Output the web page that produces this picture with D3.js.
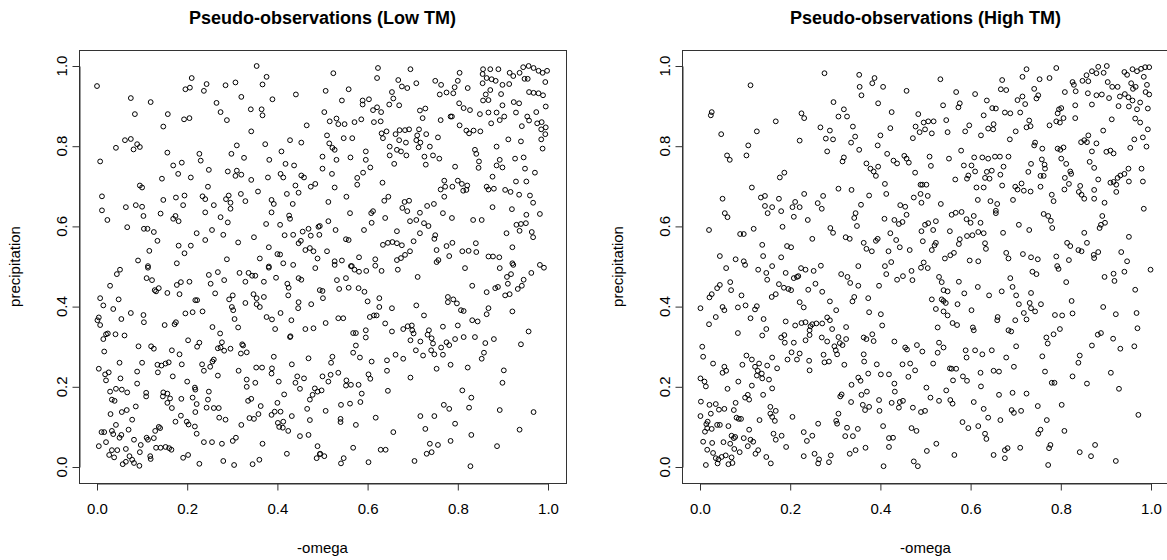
<!DOCTYPE html>
<html><head><meta charset="utf-8">
<script src="https://cdn.jsdelivr.net/npm/d3@7"></script>
<style>body{margin:0;background:#fff}svg{display:block}text{font-family:Arial,"Liberation Sans",sans-serif;fill:#000}</style>
</head><body><svg id="c" width="1167" height="560"></svg>
<script>
const titles = ["Pseudo-observations (Low TM)", "Pseudo-observations (High TM)"];
const xLabel = "-omega";
const yLabel = "precipitation";
const tickValues = [0, 0.2, 0.4, 0.6, 0.8, 1.0];
const tickLabels = ["0.0", "0.2", "0.4", "0.6", "0.8", "1.0"];

const lowTM = [
[0.00,0.95],[0.21,0.97],[0.354,1.00],[0.376,0.973],[0.243,0.955],[0.206,0.946],[0.196,0.942],[0.237,0.938],[0.285,0.952],[0.307,0.959],[0.367,0.954],[0.441,0.929],[0.075,0.92],[0.119,0.91],[0.32,0.923],[0.389,0.917],[0.265,0.908],[0.274,0.885],[0.341,0.892],[0.365,0.892],[0.367,0.877],[0.288,0.865],[0.084,0.88],[0.157,0.88],[0.193,0.867],[0.205,0.87],[0.147,0.849],[0.465,0.852],[0.342,0.837],[0.062,0.815],[0.075,0.818],[0.042,0.796],[0.089,0.805],[0.081,0.792],[0.095,0.798],[0.31,0.802],[0.373,0.805],[0.428,0.815],[0.453,0.809],[0.007,0.762],[0.156,0.784],[0.227,0.781],[0.23,0.764],[0.298,0.781],[0.326,0.771],[0.409,0.787],[0.382,0.766],[0.169,0.752],[0.188,0.759],[0.418,0.756],[0.437,0.752],[0.18,0.731],[0.208,0.722],[0.248,0.741],[0.29,0.737],[0.31,0.739],[0.307,0.726],[0.32,0.729],[0.144,0.719],[0.342,0.716],[0.379,0.722],[0.407,0.731],[0.413,0.722],[0.453,0.727],[0.459,0.722],[0.474,0.699],[0.484,0.706],[0.095,0.702],[0.10,0.697],[0.246,0.699],[0.357,0.687],[0.44,0.702],[0.447,0.684],[0.421,0.681],[0.011,0.675],[0.147,0.666],[0.175,0.672],[0.194,0.677],[0.234,0.675],[0.24,0.668],[0.286,0.668],[0.292,0.677],[0.296,0.659],[0.319,0.681],[0.329,0.663],[0.387,0.666],[0.392,0.656],[0.259,0.653],[0.191,0.653],[0.064,0.648],[0.086,0.653],[0.10,0.649],[0.434,0.656],[0.011,0.64],[0.296,0.644],[0.103,0.626],[0.141,0.632],[0.174,0.626],[0.169,0.619],[0.181,0.613],[0.24,0.635],[0.274,0.623],[0.29,0.61],[0.387,0.635],[0.426,0.627],[0.428,0.619],[0.023,0.616],[0.067,0.598],[0.104,0.594],[0.112,0.594],[0.126,0.586],[0.375,0.606],[0.406,0.604],[0.494,0.601],[0.491,0.599],[0.221,0.583],[0.255,0.591],[0.28,0.579],[0.24,0.566],[0.348,0.573],[0.416,0.578],[0.435,0.579],[0.456,0.587],[0.469,0.594],[0.474,0.577],[0.493,0.579],[0.134,0.564],[0.313,0.56],[0.447,0.558],[0.452,0.564],[0.181,0.552],[0.208,0.552],[0.116,0.539],[0.194,0.533],[0.381,0.548],[0.40,0.531],[0.406,0.53],[0.462,0.541],[0.472,0.546],[0.48,0.538],[0.489,0.52],[0.091,0.515],[0.113,0.501],[0.177,0.508],[0.288,0.518],[0.361,0.52],[0.381,0.50],[0.413,0.508],[0.435,0.504],
[0.524,0.982],[0.623,0.995],[0.621,0.97],[0.695,0.992],[0.668,0.965],[0.676,0.949],[0.688,0.945],[0.708,0.957],[0.507,0.938],[0.558,0.942],[0.543,0.914],[0.654,0.935],[0.657,0.919],[0.648,0.904],[0.67,0.902],[0.589,0.914],[0.589,0.904],[0.603,0.917],[0.612,0.89],[0.621,0.897],[0.63,0.885],[0.504,0.885],[0.516,0.862],[0.531,0.869],[0.535,0.855],[0.549,0.855],[0.571,0.86],[0.586,0.867],[0.614,0.86],[0.629,0.862],[0.51,0.827],[0.547,0.82],[0.566,0.82],[0.515,0.807],[0.522,0.796],[0.527,0.791],[0.50,0.774],[0.531,0.766],[0.562,0.772],[0.596,0.787],[0.596,0.766],[0.606,0.747],[0.50,0.744],[0.521,0.731],[0.527,0.697],[0.553,0.674],[0.513,0.661],[0.59,0.734],[0.577,0.721],[0.577,0.704],[0.633,0.709],[0.637,0.664],[0.646,0.674],[0.639,0.621],[0.561,0.633],[0.608,0.633],[0.612,0.638],[0.609,0.609],[0.592,0.591],[0.513,0.613],[0.529,0.591],[0.552,0.568],[0.558,0.566],[0.665,0.588],[0.634,0.554],[0.645,0.559],[0.655,0.561],[0.665,0.558],[0.676,0.553],[0.51,0.538],[0.527,0.513],[0.543,0.515],[0.581,0.523],[0.563,0.501],[0.617,0.518],[0.665,0.516],[0.674,0.521],[0.683,0.529],[0.694,0.538],[0.716,0.583],[0.702,0.563],[0.75,0.578],[0.748,0.569],[0.753,0.541],[0.757,0.516],[0.775,0.551],[0.788,0.559],[0.781,0.526],[0.81,0.538],[0.824,0.539],[0.841,0.536],[0.84,0.558],[0.868,0.525],[0.878,0.525],[0.892,0.523],[0.921,0.548],[0.921,0.508],[0.908,0.583],[0.937,0.589],[0.94,0.606],[0.93,0.604],[0.964,0.586],[0.967,0.573],
[0.694,0.613],[0.708,0.616],[0.725,0.608],[0.735,0.601],[0.767,0.633],[0.787,0.621],[0.834,0.616],[0.853,0.616],[0.877,0.648],[0.92,0.643],[0.952,0.629],[0.951,0.608],[0.982,0.631],[0.732,0.651],[0.747,0.656],[0.77,0.674],[0.762,0.692],[0.772,0.699],[0.788,0.699],[0.80,0.714],[0.809,0.706],[0.812,0.689],[0.821,0.702],[0.819,0.691],[0.77,0.714],[0.677,0.646],[0.688,0.638],[0.716,0.634],[0.682,0.661],[0.692,0.664],[0.864,0.699],[0.868,0.692],[0.88,0.694],[0.905,0.691],[0.917,0.686],[0.936,0.679],[0.96,0.677],[0.967,0.659],[0.929,0.712],[0.952,0.712],[0.971,0.734],[0.949,0.744],[0.927,0.769],[0.946,0.772],[0.893,0.766],[0.886,0.752],[0.899,0.747],[0.877,0.724],[0.847,0.762],[0.846,0.746],[0.794,0.749],[0.838,0.791],[0.841,0.781],[0.886,0.799],[0.912,0.817],[0.94,0.812],[0.985,0.817],[0.988,0.794],[0.995,0.847],[0.985,0.842],[0.994,0.83],[0.986,0.86],[0.976,0.857],[0.958,0.864],[0.942,0.85],[0.954,0.874],[0.974,0.885],[0.929,0.884],[0.903,0.874],[0.893,0.865],[0.886,0.884],[0.874,0.857],[0.868,0.884],[0.849,0.88],[0.827,0.89],[0.813,0.895],[0.803,0.907],[0.787,0.874],[0.804,0.852],[0.819,0.839],[0.825,0.832],[0.835,0.839],[0.85,0.837],
[0.856,0.992],[0.872,0.992],[0.89,0.992],[0.915,0.983],[0.923,0.975],[0.937,0.983],[0.945,0.997],[0.957,1.0],[0.968,0.995],[0.979,0.988],[0.988,0.983],[0.998,0.988],[0.994,0.96],[0.855,0.98],[0.864,0.97],[0.875,0.967],[0.884,0.963],[0.914,0.955],[0.948,0.968],[0.955,0.968],[0.855,0.957],[0.822,0.945],[0.804,0.983],[0.80,0.963],[0.793,0.947],[0.775,0.934],[0.76,0.929],[0.763,0.953],[0.75,0.963],[0.79,0.932],[0.862,0.929],[0.872,0.94],[0.856,0.914],[0.868,0.915],[0.896,0.93],[0.899,0.953],[0.924,0.91],[0.936,0.907],[0.899,0.902],[0.958,0.935],[0.968,0.933],[0.979,0.932],[0.989,0.927],[0.995,0.899],[0.728,0.894],[0.716,0.889],[0.722,0.87],[0.762,0.865],[0.784,0.874],
[0.631,0.832],[0.634,0.82],[0.642,0.837],[0.662,0.83],[0.671,0.84],[0.683,0.84],[0.692,0.842],[0.67,0.815],[0.685,0.809],[0.714,0.842],[0.71,0.827],[0.73,0.83],[0.756,0.822],[0.708,0.815],[0.717,0.809],[0.738,0.799],[0.713,0.797],[0.649,0.799],[0.665,0.791],[0.674,0.787],[0.686,0.777],[0.649,0.777],[0.659,0.756],[0.726,0.774],[0.729,0.754],[0.745,0.777],[0.759,0.769],[0.753,0.511],
[0.051,0.492],[0.044,0.481],[0.113,0.497],[0.11,0.471],[0.122,0.466],[0.029,0.452],[0.007,0.421],[0.014,0.403],[0.048,0.418],[0.036,0.394],[0.004,0.373],[0.001,0.366],[0.007,0.354],[0.054,0.369],[0.075,0.384],[0.103,0.379],[0.104,0.361],[0.128,0.441],[0.137,0.446],[0.131,0.438],[0.156,0.434],[0.177,0.454],[0.186,0.461],[0.205,0.462],[0.183,0.431],[0.218,0.416],[0.222,0.416],[0.234,0.388],[0.196,0.383],[0.212,0.386],[0.15,0.354],[0.172,0.356],[0.175,0.361],[0.248,0.479],[0.268,0.486],[0.252,0.457],[0.282,0.466],[0.262,0.433],[0.293,0.418],[0.301,0.428],[0.299,0.399],[0.302,0.391],[0.305,0.369],[0.313,0.348],[0.316,0.484],[0.336,0.484],[0.344,0.477],[0.351,0.477],[0.329,0.462],[0.37,0.462],[0.397,0.472],[0.422,0.457],[0.425,0.447],[0.447,0.471],[0.453,0.467],[0.347,0.431],[0.354,0.421],[0.37,0.424],[0.361,0.399],[0.329,0.409],[0.354,0.406],[0.424,0.428],[0.447,0.411],[0.446,0.396],[0.475,0.406],[0.376,0.374],[0.388,0.368],[0.407,0.384],[0.431,0.366],[0.395,0.344],[0.429,0.326],[0.462,0.344],[0.48,0.346],[0.494,0.441],[0.484,0.496],[0.381,0.497],
[0.02,0.331],[0.024,0.333],[0.041,0.331],[0.061,0.328],[0.014,0.319],[0.016,0.288],[0.092,0.301],[0.12,0.301],[0.126,0.295],[0.166,0.291],[0.183,0.281],[0.202,0.316],[0.227,0.31],[0.222,0.30],[0.256,0.349],[0.273,0.333],[0.277,0.311],[0.274,0.298],[0.282,0.29],[0.268,0.296],[0.296,0.295],[0.322,0.306],[0.324,0.303],[0.319,0.283],[0.332,0.286],[0.259,0.268],[0.256,0.263],[0.05,0.26],[0.10,0.26],[0.089,0.238],[0.134,0.255],[0.143,0.253],[0.152,0.258],[0.159,0.261],[0.135,0.236],[0.168,0.226],[0.188,0.256],[0.233,0.256],[0.237,0.24],[0.251,0.25],[0.268,0.228],[0.314,0.24],[0.353,0.248],[0.366,0.248],[0.388,0.246],[0.387,0.233],[0.403,0.213],[0.432,0.256],[0.444,0.226],[0.459,0.221],[0.44,0.21],[0.45,0.195],[0.483,0.196],[0.478,0.18],[0.489,0.188],[0.469,0.271],[0.392,0.275],[0.428,0.324],
[0.004,0.245],[0.018,0.231],[0.026,0.236],[0.02,0.216],[0.052,0.221],[0.089,0.208],[0.029,0.188],[0.042,0.195],[0.055,0.193],[0.067,0.186],[0.033,0.168],[0.039,0.165],[0.109,0.185],[0.109,0.176],[0.147,0.186],[0.146,0.176],[0.156,0.183],[0.162,0.171],[0.166,0.147],[0.156,0.16],[0.187,0.17],[0.20,0.213],[0.217,0.198],[0.218,0.193],[0.212,0.173],[0.221,0.157],[0.218,0.137],[0.248,0.188],[0.246,0.168],[0.243,0.148],[0.259,0.147],[0.27,0.147],[0.271,0.123],[0.285,0.118],[0.332,0.218],[0.332,0.20],[0.351,0.21],[0.335,0.165],[0.342,0.17],[0.363,0.152],[0.358,0.132],[0.338,0.122],[0.348,0.12],[0.387,0.13],[0.394,0.138],[0.407,0.138],[0.40,0.16],[0.415,0.181],[0.432,0.127],[0.401,0.11],[0.404,0.10],[0.413,0.113],[0.412,0.098],[0.424,0.09],[0.45,0.077],[0.469,0.08],[0.466,0.145],[0.472,0.168],[0.472,0.117],
[0.03,0.132],[0.055,0.137],[0.066,0.142],[0.086,0.151],[0.078,0.118],[0.042,0.105],[0.01,0.087],[0.016,0.087],[0.033,0.09],[0.036,0.082],[0.05,0.073],[0.054,0.08],[0.07,0.093],[0.082,0.068],[0.11,0.073],[0.113,0.068],[0.126,0.072],[0.129,0.09],[0.137,0.10],[0.14,0.097],[0.131,0.048],[0.152,0.05],[0.16,0.047],[0.165,0.043],[0.141,0.048],[0.118,0.027],[0.119,0.02],[0.174,0.113],[0.186,0.128],[0.199,0.113],[0.203,0.106],[0.217,0.101],[0.221,0.083],[0.237,0.062],[0.255,0.062],[0.277,0.058],[0.301,0.065],[0.308,0.073],[0.32,0.105],[0.367,0.058],[0.421,0.033],[0.489,0.052],[0.487,0.022],[0.494,0.032],[0.004,0.052],[0.02,0.062],[0.027,0.03],[0.033,0.042],[0.038,0.024],[0.045,0.042],[0.064,0.045],[0.057,0.007],[0.064,0.013],[0.072,0.027],[0.078,0.018],[0.082,0.01],[0.094,0.003],[0.095,0.037],[0.097,0.055],[0.191,0.023],[0.202,0.03],[0.227,0.008],[0.28,0.015],[0.304,0.005],[0.345,0.007],[0.36,0.018],
[0.527,0.504],[0.565,0.501],[0.571,0.492],[0.581,0.487],[0.597,0.489],[0.617,0.502],[0.631,0.489],[0.667,0.492],[0.711,0.474],[0.816,0.496],[0.893,0.496],[0.923,0.504],[0.982,0.504],[0.991,0.497],[0.963,0.484],[0.946,0.467],[0.918,0.481],[0.909,0.474],[0.911,0.457],[0.883,0.446],[0.889,0.449],[0.864,0.436],[0.905,0.428],[0.915,0.431],[0.933,0.444],[0.942,0.452],[0.832,0.452],[0.921,0.388],[0.864,0.381],[0.868,0.396],[0.532,0.466],[0.552,0.471],[0.537,0.444],[0.558,0.447],[0.58,0.446],[0.593,0.437],[0.50,0.439],[0.501,0.421],[0.60,0.413],[0.626,0.421],[0.626,0.399],[0.654,0.396],[0.708,0.403],[0.725,0.378],[0.605,0.374],[0.614,0.378],[0.62,0.378],[0.535,0.371],[0.546,0.371],[0.507,0.359],[0.639,0.358],[0.654,0.338],[0.679,0.344],[0.689,0.351],[0.698,0.353],[0.699,0.341],[0.702,0.333],[0.695,0.316],[0.717,0.313],[0.736,0.341],[0.733,0.33],[0.742,0.321],[0.745,0.308],[0.707,0.291],[0.723,0.278],[0.741,0.291],[0.748,0.281],[0.767,0.28],[0.763,0.298],[0.775,0.311],[0.781,0.304],[0.794,0.319],[0.813,0.324],[0.838,0.324],[0.861,0.309],[0.88,0.319],[0.767,0.35],[0.80,0.353],[0.778,0.424],[0.778,0.411],[0.79,0.418],[0.798,0.408],[0.807,0.391],[0.813,0.389],[0.832,0.366],[0.844,0.363],[0.568,0.334],[0.574,0.334],[0.596,0.341],[0.596,0.323],[0.574,0.303],[0.568,0.285],[0.583,0.273],[0.609,0.263],[0.643,0.266],[0.662,0.28],[0.679,0.27],[0.522,0.275],[0.519,0.26],[0.50,0.226],[0.518,0.23],[0.535,0.235],[0.513,0.213],[0.553,0.216],[0.552,0.203],[0.563,0.205],[0.58,0.205],[0.602,0.231],[0.606,0.22],[0.643,0.24],[0.695,0.223],[0.753,0.245],[0.784,0.255],[0.822,0.248],[0.858,0.285],[0.853,0.27],[0.902,0.241],[0.899,0.21],[0.94,0.306],[0.957,0.338],[0.498,0.191],[0.587,0.183],[0.584,0.162],[0.561,0.158],[0.541,0.155],[0.507,0.14],[0.54,0.12],[0.54,0.112],[0.574,0.105],[0.618,0.123],[0.645,0.19],[0.657,0.087],[0.717,0.127],[0.728,0.095],[0.748,0.127],[0.769,0.155],[0.781,0.145],[0.794,0.108],[0.81,0.191],[0.83,0.173],[0.825,0.148],[0.83,0.08],[0.893,0.142],[0.937,0.093],[0.968,0.137],[0.738,0.058],[0.756,0.055],[0.731,0.033],[0.742,0.037],[0.784,0.065],[0.704,0.015],[0.629,0.043],[0.64,0.043],[0.568,0.048],[0.547,0.022],[0.541,0.009],[0.602,0.012],[0.828,0.002],[0.887,0.052],[0.495,0.033],[0.504,0.027]
];

const highTM = [
[0.276,0.982],[0.353,0.978],[0.387,0.97],[0.382,0.957],[0.354,0.948],[0.406,0.948],[0.358,0.927],[0.458,0.938],[0.112,0.952],[0.296,0.91],[0.395,0.907],[0.425,0.885],[0.319,0.892],[0.307,0.874],[0.326,0.874],[0.026,0.885],[0.024,0.877],[0.225,0.882],[0.231,0.87],[0.168,0.862],[0.047,0.83],[0.126,0.837],[0.267,0.847],[0.288,0.839],[0.339,0.849],[0.344,0.824],[0.335,0.809],[0.279,0.819],[0.295,0.817],[0.221,0.814],[0.40,0.827],[0.394,0.802],[0.422,0.845],[0.484,0.88],[0.478,0.849],[0.487,0.835],[0.496,0.859],[0.472,0.82],[0.107,0.802],[0.103,0.777],[0.06,0.777],[0.066,0.766],[0.282,0.787],[0.353,0.791],[0.316,0.762],[0.319,0.772],[0.415,0.781],[0.429,0.764],[0.437,0.757],[0.453,0.776],[0.458,0.769],[0.463,0.759],[0.369,0.757],[0.378,0.744],[0.385,0.737],[0.395,0.749],[0.39,0.726],[0.187,0.734],[0.177,0.722],[0.477,0.734],[0.41,0.706],[0.413,0.681],[0.489,0.704],[0.493,0.704],[0.474,0.672],[0.489,0.681],[0.491,0.659],[0.115,0.697],[0.05,0.669],[0.135,0.672],[0.144,0.676],[0.175,0.669],[0.231,0.681],[0.273,0.676],[0.307,0.694],[0.336,0.691],[0.375,0.677],[0.211,0.661],[0.205,0.648],[0.221,0.648],[0.144,0.651],[0.15,0.633],[0.16,0.648],[0.18,0.638],[0.208,0.624],[0.261,0.658],[0.27,0.644],[0.357,0.654],[0.345,0.633],[0.342,0.621],[0.348,0.601],[0.409,0.619],[0.431,0.616],[0.441,0.606],[0.449,0.611],[0.458,0.629],[0.444,0.653],[0.455,0.649],[0.491,0.588],[0.494,0.563],[0.422,0.583],[0.435,0.566],[0.443,0.548],[0.465,0.541],[0.418,0.538],[0.055,0.633],[0.061,0.623],[0.02,0.591],[0.089,0.581],[0.097,0.581],[0.119,0.594],[0.183,0.599],[0.239,0.616],[0.249,0.569],[0.289,0.596],[0.295,0.584],[0.323,0.573],[0.332,0.569],[0.363,0.559],[0.369,0.544],[0.381,0.538],[0.39,0.564],[0.394,0.569],[0.138,0.554],[0.14,0.526],[0.193,0.551],[0.202,0.548],[0.18,0.523],[0.044,0.526],[0.079,0.518],[0.097,0.513],[0.424,0.511],[0.496,0.51],
[0.533,0.967],[0.724,0.992],[0.79,0.995],[0.715,0.973],[0.753,0.967],[0.775,0.97],[0.67,0.965],[0.667,0.942],[0.679,0.94],[0.568,0.935],[0.61,0.93],[0.539,0.902],[0.573,0.897],[0.576,0.907],[0.636,0.914],[0.648,0.895],[0.656,0.894],[0.676,0.884],[0.688,0.882],[0.71,0.884],[0.704,0.915],[0.715,0.924],[0.721,0.905],[0.741,0.943],[0.75,0.927],[0.746,0.919],[0.506,0.862],[0.518,0.862],[0.499,0.842],[0.514,0.832],[0.546,0.865],[0.549,0.835],[0.588,0.837],[0.597,0.852],[0.623,0.827],[0.639,0.844],[0.65,0.842],[0.651,0.855],[0.629,0.877],[0.687,0.817],[0.70,0.837],[0.73,0.864],[0.733,0.85],[0.724,0.847],[0.743,0.809],[0.741,0.802],[0.759,0.794],[0.775,0.852],[0.79,0.862],[0.798,0.859],[0.806,0.87],[0.793,0.882],[0.796,0.892],[0.801,0.895],[0.809,0.935],[0.826,0.96],[0.829,0.953],[0.833,0.937],[0.848,0.963],[0.861,0.962],[0.857,0.977],[0.869,0.987],[0.883,0.998],[0.879,0.982],[0.895,0.983],[0.902,1.0],[0.904,0.96],[0.914,0.948],[0.926,0.948],[0.941,0.985],[0.947,0.978],[0.959,0.992],[0.969,0.987],[0.978,0.993],[0.987,0.997],[0.996,0.997],[0.984,0.973],[0.991,0.953],[0.988,0.935],[0.996,0.929],[0.956,0.957],[0.966,0.948],[0.96,0.943],[0.942,0.93],[0.95,0.922],[0.959,0.914],[0.976,0.909],[0.993,0.894],[0.969,0.892],[0.951,0.899],[0.928,0.90],[0.931,0.924],[0.907,0.92],[0.891,0.929],[0.879,0.927],[0.869,0.904],[0.86,0.932],[0.832,0.902],[0.832,0.87],[0.894,0.839],[0.913,0.867],[0.965,0.869],[0.976,0.859],[0.993,0.842],[0.982,0.822],[0.963,0.817],[0.954,0.796],[0.99,0.799],[0.901,0.786],[0.91,0.789],[0.917,0.782],[0.869,0.787],[0.845,0.81],[0.852,0.815],[0.861,0.827],[0.858,0.81],[0.879,0.807],[0.864,0.761],[0.874,0.746],[0.799,0.791],[0.806,0.797],[0.793,0.794],[0.801,0.769],[0.812,0.756],[0.823,0.731],[0.821,0.737],[0.809,0.721],[0.818,0.706],[0.808,0.692],[0.843,0.701],[0.84,0.686],[0.846,0.679],[0.852,0.669],[0.874,0.691],[0.874,0.669],[0.897,0.659],[0.883,0.717],[0.91,0.709],[0.917,0.711],[0.923,0.704],[0.926,0.721],[0.932,0.727],[0.941,0.731],[0.95,0.744],[0.923,0.686],[0.951,0.712],[0.979,0.744],[0.982,0.712],[0.984,0.644],[0.852,0.584],[0.858,0.559],[0.814,0.559],[0.821,0.551],[0.839,0.541],[0.846,0.538],[0.818,0.516],[0.79,0.525],[0.886,0.596],[0.889,0.604],[0.898,0.609],[0.892,0.626],[0.883,0.536],[0.873,0.529],[0.874,0.521],[0.934,0.536],[0.947,0.513],[0.951,0.574],[0.765,0.744],[0.758,0.767],[0.764,0.754],[0.755,0.726],[0.762,0.726],[0.734,0.756],[0.728,0.736],[0.755,0.699],[0.78,0.679],[0.784,0.663],[0.762,0.631],[0.772,0.626],[0.778,0.614],[0.781,0.596],[0.672,0.584],[0.707,0.604],[0.73,0.591],[0.666,0.729],[0.67,0.702],[0.699,0.699],[0.704,0.692],[0.713,0.707],[0.718,0.689],[0.733,0.687],[0.694,0.666],[0.659,0.656],[0.656,0.639],[0.656,0.633],[0.647,0.739],[0.636,0.736],[0.632,0.721],[0.642,0.719],[0.629,0.697],[0.613,0.697],[0.61,0.737],[0.602,0.752],[0.579,0.789],[0.585,0.752],[0.592,0.719],[0.566,0.717],[0.595,0.727],[0.552,0.769],[0.509,0.774],[0.512,0.751],[0.502,0.704],[0.505,0.676],[0.608,0.772],[0.626,0.772],[0.639,0.769],[0.654,0.774],[0.665,0.774],[0.673,0.749],[0.684,0.774],[0.534,0.656],[0.558,0.629],[0.567,0.634],[0.58,0.636],[0.591,0.618],[0.60,0.609],[0.607,0.626],[0.616,0.666],[0.644,0.663],[0.622,0.609],[0.629,0.583],[0.617,0.586],[0.604,0.578],[0.576,0.568],[0.592,0.576],[0.574,0.556],[0.632,0.558],[0.634,0.544],[0.555,0.528],[0.563,0.534],[0.543,0.52],[0.514,0.541],[0.523,0.559],[0.52,0.553],[0.499,0.604],[0.506,0.608],[0.517,0.591],[0.523,0.613],[0.554,0.588],[0.598,0.515],[0.617,0.513],[0.679,0.534],[0.684,0.52],[0.716,0.531],[0.734,0.523],[0.749,0.518],
[0.058,0.496],[0.10,0.504],[0.129,0.492],[0.147,0.484],[0.149,0.467],[0.16,0.501],[0.19,0.484],[0.218,0.476],[0.224,0.496],[0.234,0.492],[0.252,0.489],[0.268,0.502],[0.313,0.481],[0.327,0.474],[0.333,0.459],[0.351,0.452],[0.351,0.501],[0.397,0.452],[0.41,0.501],[0.413,0.481],[0.437,0.467],[0.45,0.476],[0.469,0.489],[0.471,0.466],[0.49,0.497],[0.044,0.454],[0.038,0.446],[0.067,0.461],[0.069,0.441],[0.021,0.423],[0.026,0.431],[0.001,0.396],[0.05,0.399],[0.054,0.391],[0.035,0.374],[0.02,0.356],[0.084,0.398],[0.101,0.403],[0.126,0.401],[0.122,0.393],[0.092,0.428],[0.112,0.371],[0.141,0.369],[0.138,0.328],[0.147,0.344],[0.084,0.334],[0.159,0.424],[0.168,0.431],[0.175,0.456],[0.186,0.447],[0.196,0.444],[0.202,0.441],[0.208,0.471],[0.215,0.474],[0.24,0.442],[0.256,0.457],[0.271,0.437],[0.288,0.413],[0.302,0.391],[0.221,0.411],[0.23,0.398],[0.19,0.363],[0.211,0.353],[0.225,0.359],[0.234,0.361],[0.245,0.351],[0.249,0.356],[0.258,0.358],[0.271,0.358],[0.282,0.373],[0.288,0.366],[0.293,0.344],[0.324,0.349],[0.27,0.323],[0.282,0.313],[0.298,0.301],[0.307,0.324],[0.31,0.309],[0.316,0.304],[0.324,0.319],[0.243,0.341],[0.234,0.316],[0.243,0.329],[0.187,0.329],[0.18,0.323],[0.188,0.31],[0.208,0.31],[0.221,0.283],[0.203,0.286],[0.194,0.268],[0.215,0.268],[0.242,0.265],[0.243,0.241],[0.274,0.28],[0.276,0.261],[0.286,0.263],[0.301,0.291],[0.304,0.281],[0.32,0.255],[0.338,0.413],[0.342,0.424],[0.373,0.421],[0.375,0.386],[0.404,0.353],[0.401,0.381],[0.363,0.323],[0.369,0.319],[0.382,0.331],[0.385,0.314],[0.431,0.313],[0.455,0.298],[0.459,0.293],[0.481,0.304],[0.493,0.288],[0.466,0.258],[0.449,0.256],[0.477,0.241],[0.462,0.225],[0.45,0.165],[0.441,0.148],[0.432,0.188],[0.431,0.208],[0.419,0.231],[0.401,0.231],[0.373,0.233],[0.364,0.263],[0.363,0.281],[0.392,0.256],[0.351,0.223],[0.356,0.215],[0.336,0.205],[0.37,0.188],[0.358,0.18],[0.361,0.155],[0.375,0.15],[0.366,0.142],[0.397,0.167],[0.398,0.14],[0.425,0.16],[0.443,0.162],[0.472,0.148],[0.49,0.137],[0.314,0.181],[0.311,0.176],[0.335,0.162],[0.307,0.133],[0.302,0.115],[0.304,0.108],[0.326,0.098],[0.322,0.077],[0.339,0.077],[0.35,0.095],[0.367,0.048],[0.345,0.042],[0.332,0.033],[0.262,0.108],[0.249,0.078],[0.23,0.087],[0.237,0.065],[0.254,0.033],[0.264,0.019],[0.262,0.009],[0.29,0.029],[0.286,0.012],[0.23,0.027],[0.191,0.05],[0.163,0.083],[0.181,0.078],[0.168,0.068],[0.205,0.125],[0.156,0.15],[0.168,0.14],[0.156,0.133],[0.166,0.115],[0.16,0.125],[0.132,0.117],[0.14,0.18],[0.149,0.253],[0.103,0.278],[0.115,0.268],[0.131,0.258],[0.122,0.25],[0.128,0.24],[0.138,0.221],[0.153,0.218],[0.16,0.196],[0.126,0.228],[0.137,0.233],[0.16,0.273],[0.171,0.246],[0.115,0.203],[0.106,0.18],[0.109,0.168],[0.10,0.173],[0.085,0.213],[0.094,0.255],[0.079,0.16],[0.075,0.142],[0.081,0.123],[0.086,0.12],[0.091,0.12],[0.058,0.24],[0.054,0.25],[0.05,0.235],[0.029,0.258],[0.005,0.30],[0.007,0.275],[0.001,0.221],[0.002,0.163],[0.01,0.213],[0.013,0.201],[0.061,0.195],[0.021,0.155],[0.042,0.143],[0.054,0.145],[0.035,0.157],[0.001,0.127],[0.024,0.133],[0.017,0.113],[0.014,0.107],[0.016,0.097],[0.011,0.088],[0.026,0.095],[0.038,0.105],[0.044,0.105],[0.063,0.102],[0.109,0.093],[0.078,0.075],[0.075,0.072],[0.097,0.072],[0.112,0.068],[0.118,0.063],[0.106,0.052],[0.007,0.063],[0.027,0.06],[0.052,0.062],[0.067,0.058],[0.07,0.078],[0.016,0.043],[0.029,0.035],[0.035,0.022],[0.041,0.019],[0.039,0.009],[0.048,0.025],[0.057,0.029],[0.063,0.007],[0.07,0.024],[0.072,0.01],[0.076,0.045],[0.088,0.037],[0.123,0.033],[0.129,0.042],[0.147,0.025],[0.157,0.009],[0.013,0.005],[0.407,0.002],[0.406,0.102],[0.419,0.05],[0.419,0.072],[0.428,0.073],[0.469,0.097],[0.48,0.09],[0.474,0.014],[0.483,0.002],
[0.505,0.496],[0.53,0.474],[0.536,0.461],[0.54,0.441],[0.549,0.438],[0.574,0.462],[0.616,0.449],[0.586,0.433],[0.514,0.418],[0.536,0.418],[0.54,0.414],[0.545,0.409],[0.523,0.394],[0.54,0.388],[0.549,0.378],[0.571,0.406],[0.602,0.391],[0.641,0.428],[0.669,0.438],[0.688,0.471],[0.693,0.449],[0.701,0.428],[0.707,0.406],[0.734,0.434],[0.737,0.487],[0.746,0.481],[0.731,0.409],[0.734,0.396],[0.743,0.388],[0.756,0.406],[0.718,0.384],[0.724,0.368],[0.699,0.366],[0.66,0.374],[0.659,0.366],[0.56,0.359],[0.57,0.354],[0.527,0.348],[0.605,0.348],[0.607,0.341],[0.684,0.341],[0.69,0.338],[0.787,0.379],[0.803,0.378],[0.824,0.414],[0.826,0.383],[0.812,0.461],[0.792,0.501],[0.795,0.494],[0.897,0.474],[0.917,0.482],[0.919,0.464],[0.941,0.487],[0.999,0.492],[0.965,0.442],[0.894,0.399],[0.922,0.381],[0.968,0.384],[0.97,0.346],[0.768,0.323],[0.771,0.308],[0.784,0.331],[0.798,0.344],[0.869,0.303],[0.882,0.33],[0.889,0.334],[0.916,0.32],[0.932,0.295],[0.963,0.301],[0.842,0.278],[0.839,0.26],[0.826,0.226],[0.858,0.208],[0.911,0.235],[0.929,0.195],[0.972,0.13],[0.53,0.31],[0.54,0.298],[0.527,0.285],[0.517,0.258],[0.554,0.246],[0.558,0.245],[0.568,0.245],[0.561,0.216],[0.583,0.226],[0.592,0.215],[0.589,0.291],[0.591,0.273],[0.61,0.291],[0.626,0.281],[0.647,0.291],[0.679,0.273],[0.701,0.301],[0.696,0.25],[0.651,0.24],[0.663,0.238],[0.622,0.235],[0.623,0.201],[0.759,0.276],[0.765,0.238],[0.78,0.21],[0.786,0.21],[0.502,0.198],[0.546,0.191],[0.511,0.173],[0.53,0.165],[0.555,0.167],[0.56,0.158],[0.607,0.162],[0.629,0.145],[0.639,0.123],[0.663,0.18],[0.693,0.185],[0.724,0.183],[0.691,0.142],[0.696,0.135],[0.712,0.14],[0.749,0.152],[0.802,0.155],[0.582,0.112],[0.595,0.097],[0.617,0.102],[0.632,0.083],[0.635,0.07],[0.666,0.117],[0.769,0.117],[0.755,0.093],[0.75,0.083],[0.808,0.09],[0.524,0.058],[0.503,0.04],[0.564,0.03],[0.651,0.03],[0.676,0.042],[0.682,0.047],[0.676,0.022],[0.71,0.048],[0.774,0.047],[0.777,0.055],[0.772,0.005],[0.842,0.037],[0.867,0.027],[0.876,0.055],[0.922,0.015],[0.499,0.14]
];

const W = 1167, H = 560;
const svg = d3.select("#c");
svg.append("rect").attr("width", W).attr("height", H).attr("fill", "#fff");

const panels = [
  { data: lowTM, title: titles[0], range: [97, 548] },
  { data: highTM, title: titles[1], range: [700, 1151] }
];
const yRange = [467, 66];
const fs = 15;

panels.forEach(p => {
  const x = d3.scaleLinear().domain([0, 1]).range(p.range);
  const y = d3.scaleLinear().domain([0, 1]).range(yRange);
  const bx0 = x(-0.04), bx1 = x(1.04), by0 = y(1.04), by1 = y(-0.04);
  const g = svg.append("g");

  g.append("rect")
    .attr("x", Math.round(bx0) + 0.5).attr("y", Math.round(by0) + 0.5)
    .attr("width", Math.round(bx1 - bx0)).attr("height", Math.round(by1 - by0))
    .attr("fill", "none").attr("stroke", "#333").attr("stroke-width", 1);

  const xa = d3.axisBottom(x).tickValues(tickValues).tickFormat((d, i) => tickLabels[i])
    .tickSize(7).tickSizeOuter(0).tickPadding(13);
  const gx = g.append("g").attr("transform", `translate(0,${Math.round(by1) + 0.5})`).call(xa);
  gx.select(".domain").attr("stroke", "#333");
  gx.selectAll(".tick line").attr("stroke", "#333");
  gx.selectAll("text").attr("font-size", fs).attr("font-family", "Arial, 'Liberation Sans', sans-serif").attr("fill", "#000");

  const ya = d3.axisLeft(y).tickValues(tickValues).tickFormat("").tickSize(7).tickSizeOuter(0);
  const gy = g.append("g").attr("transform", `translate(${Math.round(bx0) + 0.5},0)`).call(ya);
  gy.select(".domain").attr("stroke", "#333");
  gy.selectAll(".tick line").attr("stroke", "#333");
  g.selectAll(".ylab").data(tickValues).enter().append("text")
    .attr("transform", (d) => `translate(${bx0 - 12},${y(d)}) rotate(-90)`)
    .attr("text-anchor", "middle").attr("font-size", fs)
    .text((d, i) => tickLabels[i]);

  g.append("text").attr("x", (bx0 + bx1) / 2).attr("y", 23.5)
    .attr("text-anchor", "middle").attr("font-size", 18).attr("font-weight", "bold")
    .text(p.title);
  g.append("text").attr("x", (bx0 + bx1) / 2).attr("y", 553)
    .attr("text-anchor", "middle").attr("font-size", fs).text(xLabel);
  g.append("text")
    .attr("transform", `translate(${bx0 - 59},${(by0 + by1) / 2}) rotate(-90)`)
    .attr("text-anchor", "middle").attr("font-size", fs).text(yLabel);

  g.append("g").selectAll("circle").data(p.data).enter().append("circle")
    .attr("cx", d => x(d[0])).attr("cy", d => y(d[1])).attr("r", 2.4)
    .attr("fill", "none").attr("stroke", "#000").attr("stroke-width", 1);
});
</script>
</body></html>
